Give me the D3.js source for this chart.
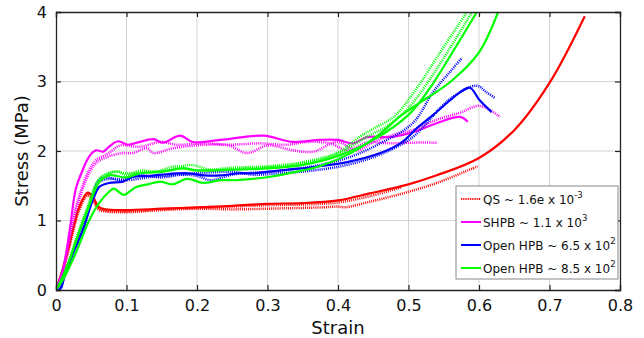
<!DOCTYPE html>
<html>
<head>
<meta charset="utf-8">
<script src="https://cdn.jsdelivr.net/npm/d3@7"></script>
<style>
  body { margin: 0; background: #fff; }
  svg { display: block; font-family: "DejaVu Sans", sans-serif; }
</style>
</head>
<body>
<svg id="chart" width="644" height="338"></svg>
<script>
// strain / stress pairs
const qs1 = [[0,0],[0.008,0.25],[0.018,0.62],[0.033,1.2],[0.045,1.4],[0.052,1.35],[0.06,1.2],[0.07,1.16],[0.1,1.15],[0.15,1.17],[0.2,1.19],[0.25,1.21],[0.3,1.24],[0.35,1.25],[0.4,1.29],[0.445,1.39],[0.5,1.52],[0.54,1.65],[0.6,1.9],[0.65,2.3],[0.7,2.98],[0.75,3.94]];
const qs2 = [[0,0],[0.008,0.22],[0.018,0.6],[0.033,1.18],[0.045,1.38],[0.052,1.33],[0.06,1.18],[0.07,1.14],[0.1,1.13],[0.15,1.16],[0.2,1.18],[0.25,1.2],[0.3,1.22],[0.35,1.23],[0.4,1.26],[0.445,1.35],[0.49,1.48]];
const qs3 = [[0,0],[0.008,0.2],[0.018,0.58],[0.033,1.15],[0.045,1.36],[0.052,1.3],[0.06,1.16],[0.07,1.13],[0.1,1.12],[0.15,1.15],[0.2,1.17],[0.25,1.16],[0.3,1.17],[0.38,1.19],[0.4,1.2],[0.41,1.19],[0.445,1.27],[0.492,1.39],[0.54,1.54],[0.598,1.78]];

const shpb1 = [[0,0],[0.01,0.3],[0.02,0.9],[0.028,1.45],[0.038,1.73],[0.047,1.92],[0.057,2.01],[0.067,1.99],[0.075,2.06],[0.088,2.14],[0.102,2.09],[0.115,2.12],[0.138,2.17],[0.152,2.12],[0.176,2.22],[0.194,2.13],[0.233,2.16],[0.294,2.22],[0.336,2.13],[0.374,2.16],[0.4,2.16],[0.421,2.11],[0.441,2.2],[0.474,2.2],[0.506,2.27],[0.54,2.4],[0.573,2.49],[0.584,2.42]];
const shpb2 = [[0,0],[0.01,0.28],[0.02,0.8],[0.03,1.25],[0.047,1.73],[0.057,1.87],[0.075,1.97],[0.091,2.08],[0.119,2.06],[0.148,2.13],[0.172,2.09],[0.209,2.11],[0.247,2.09],[0.289,2.11],[0.328,2.09],[0.356,2.13],[0.389,2.11],[0.413,2.01],[0.441,2.12],[0.474,2.11],[0.506,2.12],[0.54,2.12]];
const shpb3 = [[0,0],[0.01,0.28],[0.02,0.78],[0.03,1.2],[0.047,1.68],[0.06,1.85],[0.08,1.94],[0.095,1.97],[0.109,1.97],[0.129,2.04],[0.138,1.97],[0.166,2.04],[0.214,2.09],[0.245,2.08],[0.271,1.97],[0.3,2.08],[0.336,2.01],[0.365,1.99],[0.399,2.13],[0.427,2.01],[0.45,2.13],[0.478,2.23],[0.506,2.3],[0.54,2.45],[0.573,2.55],[0.601,2.65],[0.63,2.49]];

const hpb65a = [[0,0],[0.006,0.02],[0.012,0.2],[0.02,0.42],[0.028,0.62],[0.038,0.86],[0.047,1.15],[0.054,1.34],[0.061,1.48],[0.075,1.54],[0.095,1.56],[0.109,1.63],[0.13,1.64],[0.15,1.66],[0.186,1.68],[0.21,1.65],[0.233,1.65],[0.26,1.68],[0.279,1.68],[0.3,1.7],[0.328,1.73],[0.365,1.77],[0.413,1.84],[0.46,1.97],[0.49,2.12],[0.512,2.33],[0.535,2.52],[0.559,2.73],[0.571,2.83],[0.587,2.91],[0.601,2.73],[0.618,2.56]];
const hpb65b = [[0,0],[0.006,0.02],[0.012,0.22],[0.02,0.45],[0.03,0.7],[0.04,0.95],[0.05,1.3],[0.061,1.58],[0.071,1.62],[0.09,1.58],[0.1,1.6],[0.12,1.65],[0.15,1.62],[0.18,1.66],[0.2,1.64],[0.22,1.58],[0.25,1.66],[0.3,1.7],[0.32,1.72],[0.365,1.78],[0.413,1.9],[0.46,2.11],[0.506,2.4],[0.535,2.85],[0.559,3.14],[0.576,3.34]];
const hpb65c = [[0,0],[0.006,0.02],[0.012,0.2],[0.02,0.43],[0.03,0.68],[0.04,0.92],[0.05,1.25],[0.061,1.55],[0.08,1.6],[0.1,1.58],[0.13,1.62],[0.16,1.65],[0.2,1.68],[0.25,1.7],[0.28,1.66],[0.318,1.68],[0.365,1.72],[0.413,1.8],[0.46,1.95],[0.506,2.2],[0.545,2.62],[0.563,2.78],[0.597,2.94],[0.61,2.85],[0.623,2.76]];

const hpb85a = [[0,0],[0.01,0.15],[0.028,0.53],[0.047,1.0],[0.061,1.25],[0.075,1.41],[0.082,1.46],[0.096,1.37],[0.113,1.48],[0.13,1.52],[0.148,1.56],[0.165,1.52],[0.186,1.6],[0.209,1.54],[0.233,1.58],[0.257,1.58],[0.28,1.6],[0.304,1.63],[0.34,1.7],[0.374,1.78],[0.42,1.98],[0.46,2.25],[0.488,2.5],[0.52,2.72],[0.56,3.0],[0.6,3.42],[0.627,4.0]];
const hpb85b = [[0,0],[0.01,0.2],[0.02,0.45],[0.03,0.75],[0.045,1.15],[0.061,1.55],[0.075,1.65],[0.1,1.62],[0.12,1.68],[0.15,1.7],[0.18,1.75],[0.2,1.72],[0.25,1.73],[0.3,1.75],[0.35,1.8],[0.4,1.93],[0.45,2.16],[0.5,2.52],[0.53,2.9],[0.56,3.38],[0.597,4.0]];
const hpb85c = [[0,0],[0.01,0.2],[0.02,0.47],[0.03,0.78],[0.045,1.2],[0.061,1.6],[0.075,1.68],[0.09,1.7],[0.1,1.65],[0.12,1.72],[0.14,1.7],[0.17,1.78],[0.2,1.72],[0.25,1.76],[0.3,1.78],[0.35,1.84],[0.4,1.98],[0.43,2.2],[0.45,2.32],[0.48,2.5],[0.51,2.88],[0.545,3.42],[0.583,4.0]];
const hpb85d = [[0,0],[0.01,0.18],[0.02,0.46],[0.03,0.76],[0.045,1.18],[0.061,1.58],[0.08,1.7],[0.1,1.68],[0.13,1.7],[0.16,1.72],[0.19,1.8],[0.22,1.73],[0.26,1.75],[0.3,1.77],[0.35,1.82],[0.4,1.96],[0.44,2.2],[0.47,2.36],[0.5,2.62],[0.54,3.18],[0.59,4.0]];

const xTicks = [0, 0.1, 0.2, 0.3, 0.4, 0.5, 0.6, 0.7, 0.8];
const yTicks = [0, 1, 2, 3, 4];

const groups = [
  { label: "QS ~ 1.6e x 10", exp: "-3", color: "#ff0000", curves: [qs3, qs2, qs1], dotted: [true, true, false] },
  { label: "SHPB ~ 1.1 x 10", exp: "3", color: "#ff00ff", curves: [shpb2, shpb3, shpb1], dotted: [true, true, false] },
  { label: "Open HPB ~ 6.5 x 10", exp: "2", color: "#0000ff", curves: [hpb65b, hpb65c, hpb65a], dotted: [true, true, false] },
  { label: "Open HPB ~ 8.5 x 10", exp: "2", color: "#00ff00", curves: [hpb85a, hpb85b, hpb85c, hpb85d], dotted: [false, false, true, true] }
];
const legendDotted = [true, false, false, false];

const svg = d3.select("#chart");
const margin = { top: 12, right: 24, bottom: 48, left: 56 };
const W = 644 - margin.left - margin.right;
const H = 338 - margin.top - margin.bottom;
const g = svg.append("g").attr("transform", `translate(${margin.left},${margin.top})`);

const x = d3.scaleLinear().domain([0, 0.8]).range([0, W]);
const y = d3.scaleLinear().domain([0, 4]).range([H, 0]);

// grid
g.append("g").selectAll("line").data(xTicks.slice(1, -1)).join("line")
  .attr("x1", d => x(d)).attr("x2", d => x(d)).attr("y1", 0).attr("y2", H)
  .attr("stroke", "#d4d4d4").attr("stroke-width", 1);
g.append("g").selectAll("line").data(yTicks.slice(1, -1)).join("line")
  .attr("y1", d => y(d)).attr("y2", d => y(d)).attr("x1", 0).attr("x2", W)
  .attr("stroke", "#d4d4d4").attr("stroke-width", 1);

svg.append("defs").append("clipPath").attr("id", "clip")
  .append("rect").attr("x", 0).attr("y", 0).attr("width", W).attr("height", H);

const line = d3.line().x(d => x(d[0])).y(d => y(d[1])).curve(d3.curveCatmullRom.alpha(0.5));
const plot = g.append("g").attr("clip-path", "url(#clip)");
groups.forEach(gr => {
  gr.curves.forEach((c, i) => {
    plot.append("path").datum(c).attr("d", line)
      .attr("fill", "none").attr("stroke", gr.color)
      .attr("stroke-width", gr.dotted[i] ? 2.5 : 2.2)
      .attr("stroke-dasharray", gr.dotted[i] ? "1,1.1" : null)
      .attr("stroke-linejoin", "round");
  });
});

// axes with inward ticks on all sides
const fmt = d => d === 0 ? "0" : d3.format("")(d);
g.append("g").attr("transform", `translate(0,${H})`)
  .call(d3.axisBottom(x).tickValues(xTicks).tickSize(-5).tickPadding(10).tickFormat(fmt));
g.append("g")
  .call(d3.axisLeft(y).tickValues(yTicks).tickSize(-5).tickPadding(9).tickFormat(fmt));
g.append("g").call(d3.axisTop(x).tickValues(xTicks).tickSize(-5).tickFormat(""));
g.append("g").attr("transform", `translate(${W},0)`)
  .call(d3.axisRight(y).tickValues(yTicks).tickSize(-5).tickFormat(""));
g.selectAll(".domain").attr("stroke", "#222").attr("stroke-width", 1.3);
g.selectAll(".tick line").attr("stroke", "#222").attr("stroke-width", 1.2);
g.selectAll(".tick text").attr("font-size", 16).attr("fill", "#111").attr("font-family", "DejaVu Sans, sans-serif");

svg.append("text").attr("x", margin.left + W / 2).attr("y", 334)
  .attr("text-anchor", "middle").attr("font-size", 18).attr("fill", "#111").text("Strain");
svg.append("text").attr("transform", `translate(28,${margin.top + H / 2}) rotate(-90)`)
  .attr("text-anchor", "middle").attr("font-size", 18).attr("fill", "#111").text("Stress (MPa)");

// legend
const lg = svg.append("g").attr("transform", "translate(456,186)");
lg.append("rect").attr("width", 162).attr("height", 93)
  .attr("fill", "#fff").attr("stroke", "#888").attr("stroke-width", 1);
groups.forEach((gr, i) => {
  const cy = 13 + i * 23;
  lg.append("line").attr("x1", 5).attr("x2", 25).attr("y1", cy).attr("y2", cy)
    .attr("stroke", gr.color).attr("stroke-width", 2)
    .attr("stroke-dasharray", legendDotted[i] ? "1,0.8" : null);
  const t = lg.append("text").attr("x", 27).attr("y", cy + 5)
    .attr("font-size", 12).attr("fill", "#111");
  t.append("tspan").text(gr.label);
  t.append("tspan").attr("font-size", 8.5).attr("dy", -6).text(gr.exp);
});
</script>
</body>
</html>
